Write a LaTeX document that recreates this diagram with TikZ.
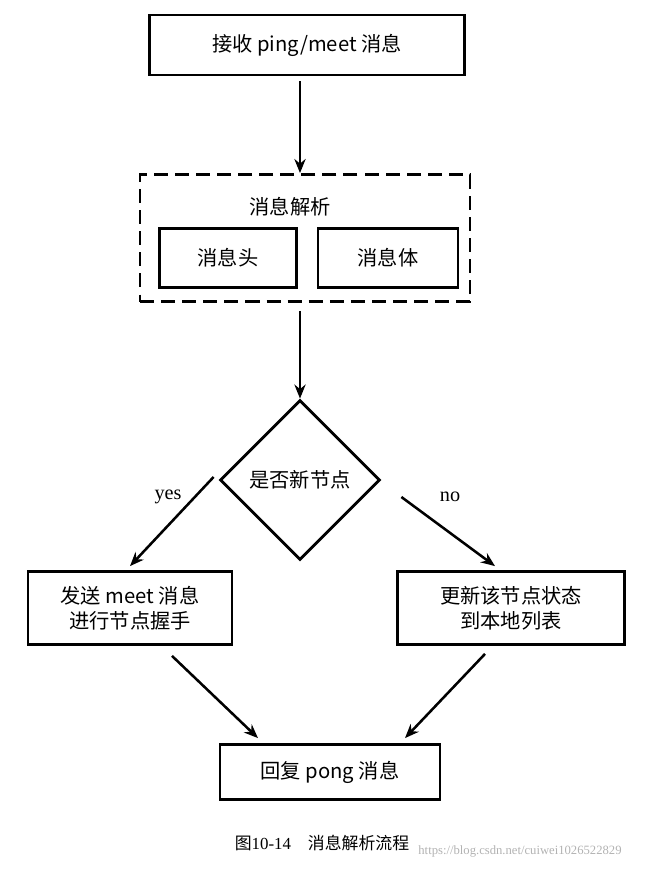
\documentclass[tikz,border=0pt]{standalone}
\usepackage{fontspec}
\setmainfont{Liberation Serif}
\newfontfamily\cjk{Noto Sans CJK SC}
\usetikzlibrary{shapes.geometric,arrows.meta}
\tikzstyle{box} = [draw=black, line width=2pt, font=\cjk\Large, align=center, inner sep=0pt]
\tikzstyle{arrow} = [line width=1.8pt,-{Stealth[length=10pt,width=8pt]}]
\begin{document}
\begin{tikzpicture}[x=0.025cm,y=-0.025cm]
\useasboundingbox (0,0) rectangle (667,874);
\node[box, minimum width=315*0.025cm, minimum height=60*0.025cm] (recv) at (307,45) {接收 ping/meet 消息};
\node[draw, dash pattern=on 10pt off 5pt, line width=2pt, minimum width=330*0.025cm, minimum height=127*0.025cm] (parse) at (305,238) {};
\node[font=\cjk\Large] (ptitle) at (290,207) {消息解析};
\node[box, minimum width=137*0.025cm, minimum height=59*0.025cm] (head) at (228,258) {消息头};
\node[box, minimum width=140*0.025cm, minimum height=59*0.025cm] (body) at (388,258) {消息体};
\node[box, diamond, minimum width=160*0.025cm, minimum height=160*0.025cm] (isnew) at (300,480) {是否新节点};
\node[box, minimum width=204*0.025cm, minimum height=73*0.025cm] (meet) at (130,608) {发送 meet 消息\\进行节点握手};
\node[box, minimum width=227*0.025cm, minimum height=73*0.025cm] (upd) at (511,608) {更新该节点状态\\到本地列表};
\node[box, minimum width=220*0.025cm, minimum height=55*0.025cm] (pong) at (330,772) {回复 pong 消息};
\node[font=\Large] at (168,497) {yes};
\node[font=\Large] at (450,497) {no};
\node[font=\large] (cap) at (322,843) {{\cjk 图}10-14\quad {\cjk 消息解析流程}};
\node[font=\small, text=gray!60] (wm) at (520,851) {https://blog.csdn.net/cuiwei1026522829};
% connectors
\draw[arrow] (recv.south) ++(-7,5) -- ([xshift=-5*0.025cm]parse.north);
\draw[arrow] ([xshift=-5*0.025cm,yshift=-8*0.025cm]parse.south) -- (isnew.north);
\draw[arrow] ([xshift=-5*0.025cm,yshift=3*0.025cm]isnew.west) -- ([yshift=4*0.025cm]meet.north);
\draw[arrow] ([xshift=20*0.025cm,yshift=-17*0.025cm]isnew.east) -- ([xshift=-16*0.025cm,yshift=4*0.025cm]upd.north);
\draw[arrow] ([xshift=42*0.025cm,yshift=-10*0.025cm]meet.south) -- ([xshift=-72*0.025cm,yshift=5*0.025cm]pong.north);
\draw[arrow] ([xshift=-26*0.025cm,yshift=-8*0.025cm]upd.south) -- ([xshift=75*0.025cm,yshift=5*0.025cm]pong.north);
\end{tikzpicture}
\end{document}
